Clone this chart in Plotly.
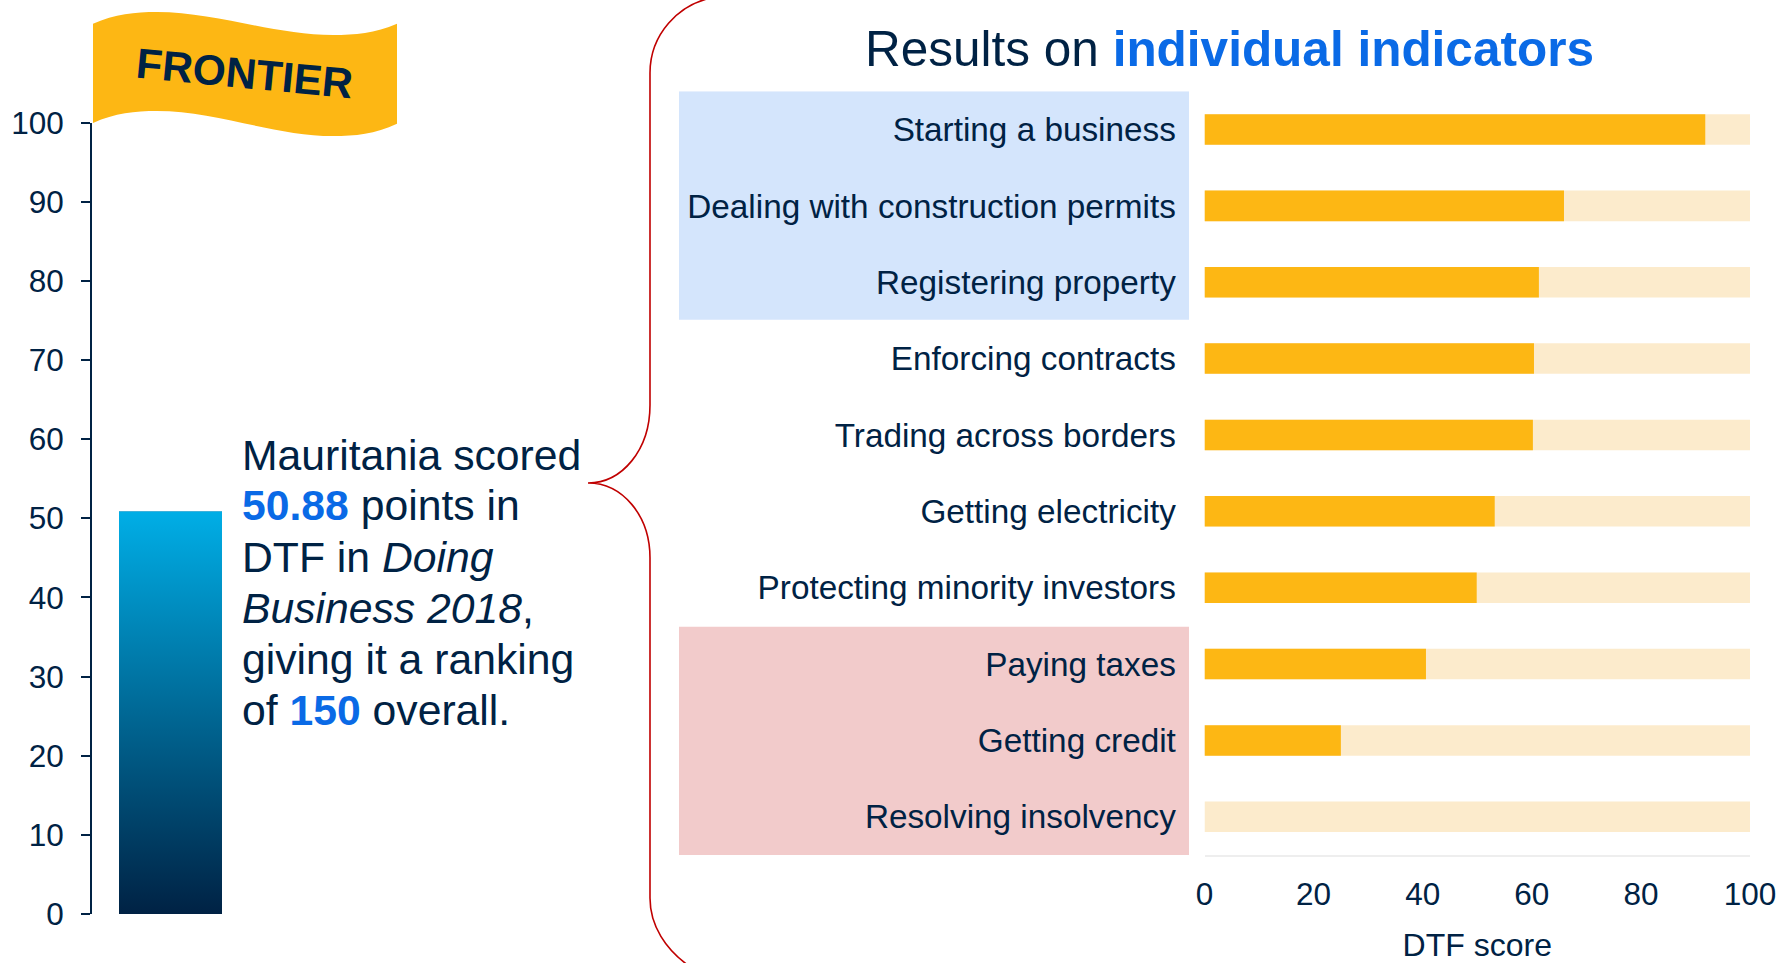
import plotly.graph_objects as go

W, H = 1781, 963
NAVY = "#002244"
BLUE = "#0a6ae6"
GOLD = "#fdb714"
PALE = "#fcebcc"
FONT = "Liberation Sans"

score = 50.88
overall_ticks = [0, 10, 20, 30, 40, 50, 60, 70, 80, 90, 100]
indicators = ["Starting a business", "Dealing with construction permits", "Registering property",
              "Enforcing contracts", "Trading across borders", "Getting electricity",
              "Protecting minority investors", "Paying taxes", "Getting credit", "Resolving insolvency"]
dtf_values = [91.8, 65.9, 61.3, 60.4, 60.2, 53.2, 49.9, 40.6, 25.0, 0.0]
dtf_max = [100] * 10
dtf_ticks = [0, 20, 40, 60, 80, 100]
text_lines = ["Mauritania scored",
              f"<b><span style='color:{BLUE}'>50.88</span></b> points in",
              "DTF in <i>Doing</i>",
              "<i>Business 2018</i>,",
              "giving it a ranking",
              f"of <b><span style='color:{BLUE}'>150</span></b> overall."]


def px(x):
    return x / W


def py(y):
    return 1 - y / H


def path(s):
    out = []
    for cmd, pts in s:
        conv = []
        for i in range(0, len(pts), 2):
            conv.append(f"{px(pts[i]):.5f},{py(pts[i + 1]):.5f}")
        out.append(cmd + " ".join(conv))
    return " ".join(out)


fig = go.Figure()
half = 0.328
fig.add_trace(go.Bar(x=[0], y=[score], width=2 * half, marker=dict(color="#006a9c", line_width=0),
                     xaxis="x", yaxis="y", showlegend=False))
fig.add_trace(go.Scatter(x=[-half, half, half, -half, -half], y=[0, 0, score, score, 0], mode="lines",
                         line_width=0, fill="toself", xaxis="x", yaxis="y", showlegend=False,
                         fillgradient=dict(type="vertical", start=0, stop=score,
                                           colorscale=[[0, "#002244"], [1, "#00aee6"]])))
fig.add_trace(go.Bar(y=indicators, x=dtf_max, orientation="h", width=0.4, marker=dict(color=PALE, line_width=0),
                     xaxis="x2", yaxis="y2", showlegend=False))
fig.add_trace(go.Bar(y=indicators, x=dtf_values, orientation="h", width=0.4, marker=dict(color=GOLD, line_width=0),
                     xaxis="x2", yaxis="y2", showlegend=False))

shapes = [
    dict(type="rect", xref="paper", yref="y2", x0=px(679), x1=px(1189), y0=-0.5, y1=2.49,
         fillcolor="#d4e5fc", line_width=0, layer="below"),
    dict(type="rect", xref="paper", yref="y2", x0=px(679), x1=px(1189), y0=6.51, y1=9.5,
         fillcolor="#f2cbcb", line_width=0, layer="below"),
    dict(type="path", xref="paper", yref="paper", fillcolor=GOLD, line_width=0,
         path=path([("M", [93, 23.7]), ("C", [115, 14, 135, 12, 157, 12]), ("C", [215, 12, 275, 35, 333, 35]),
                    ("C", [355, 35, 375, 33, 397, 23.7]), ("L", [397, 123.7]),
                    ("C", [375, 134, 355, 136, 333, 136]), ("C", [275, 136, 215, 111, 157, 111]),
                    ("C", [135, 111, 115, 113, 93, 123]), ("Z", [])])),
    dict(type="path", xref="paper", yref="paper", line=dict(color="#c00000", width=1.6),
         path=path([("M", [716, -3]), ("C", [678, 3, 650, 35, 650, 73]), ("L", [650, 405]),
                    ("C", [650, 450, 622, 483, 588, 483]), ("C", [622, 483, 650, 515, 650, 558]),
                    ("L", [650, 898]), ("C", [650, 925, 665, 950, 692, 968])])),
]

annotations = [
    dict(text="FRONTIER", x=px(244.5), y=py(73.5), xref="paper", yref="paper", xanchor="center", yanchor="middle",
         showarrow=False, textangle=5.5, font=dict(family=FONT, size=42.5, color=NAVY, weight="bold")),
    dict(text=f"Results on <b><span style='color:{BLUE}'>individual indicators</span></b>", x=px(1229.5), y=py(49),
         xref="paper", yref="paper", xanchor="center", yanchor="middle", showarrow=False,
         font=dict(family=FONT, size=49.5, color=NAVY)),
]
line_y = [454.6, 505.4, 556.5, 607.6, 658.7, 710]
for t, yy in zip(text_lines, line_y):
    annotations.append(dict(text=t, x=px(240), y=py(yy), xref="paper", yref="paper", xanchor="left", yanchor="middle",
                            showarrow=False, font=dict(family=FONT, size=42.7, color=NAVY)))

fig.update_layout(
    width=W, height=H, margin=dict(l=0, r=0, t=0, b=0), paper_bgcolor="white", plot_bgcolor="rgba(0,0,0,0)",
    barmode="overlay", shapes=shapes, annotations=annotations, font=dict(family=FONT, color=NAVY),
    xaxis=dict(domain=[px(92), px(249)], range=[-0.5, 0.5], visible=False, automargin=False),
    yaxis=dict(domain=[py(914), py(122.7)], range=[0, 100], tickvals=overall_ticks, showgrid=False, zeroline=False,
               anchor="x", showline=True, linecolor=NAVY, linewidth=2, ticks="outside", ticklen=9, tickcolor=NAVY,
               tickwidth=2, tickfont=dict(size=31.5, color=NAVY, family=FONT), automargin=False, ticklabelstandoff=11),
    xaxis2=dict(domain=[px(1204.5), px(1750)], range=[0, 100], tickvals=dtf_ticks, anchor="y2", showgrid=False,
                zeroline=False, showline=True, linecolor="#eeeeee", linewidth=2, ticks="outside", ticklen=10,
                tickcolor="rgba(0,0,0,0)", tickfont=dict(size=31.5, color=NAVY, family=FONT), automargin=False,
                title=dict(text="DTF score", font=dict(size=32, color=NAVY, family=FONT), standoff=29)),
    yaxis2=dict(domain=[py(855), py(91.3)], autorange="reversed", anchor="x2", type="category", showgrid=False,
                showline=False, ticks="outside", ticklen=21, tickcolor="rgba(0,0,0,0)", automargin=False,
                tickfont=dict(size=33.3, color=NAVY, family=FONT)),
)
fig.write_html("out.html", config={"displayModeBar": False},
               post_script="document.body.style.margin='0';")
